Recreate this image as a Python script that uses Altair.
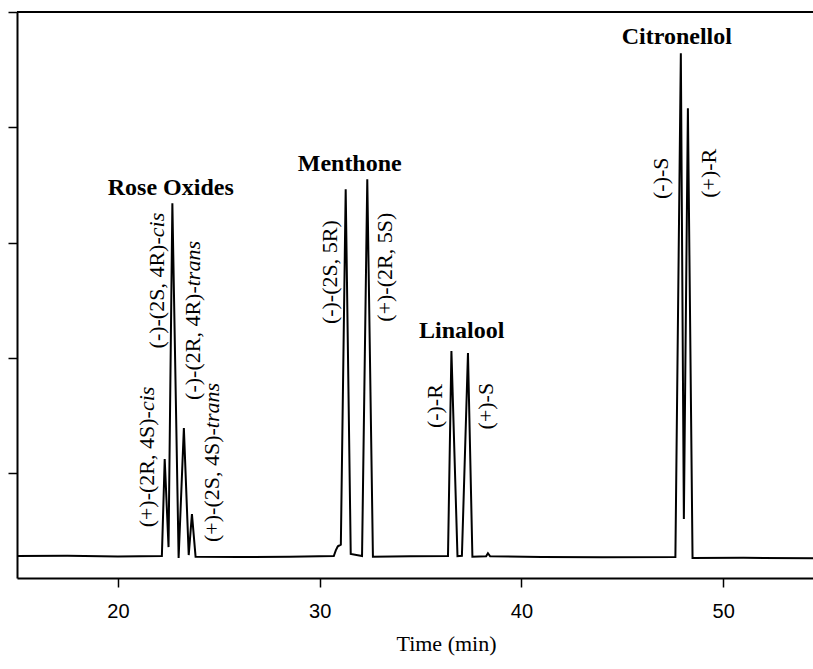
import altair as alt
import pandas as pd

# Chromatogram trace (time in min, detector signal in arbitrary units)
trace_time = [15.0, 17.5, 20.0, 22.18, 22.32, 22.51, 22.70, 23.01, 23.27, 23.51, 23.67, 23.85,
              26.0, 28.5, 30.70, 30.80, 30.90, 31.05, 31.29, 31.54, 32.10, 32.36, 32.64,
              34.5, 36.36, 36.53, 36.83, 37.05, 37.35, 37.57, 38.25, 38.34, 38.45,
              41.0, 44.0, 47.63, 47.90, 48.05, 48.25, 48.48, 51.0, 54.45]
trace_signal = [0.280, 0.282, 0.276, 0.280, 1.121, 0.358, 3.341, 0.263, 1.390, 0.289, 0.644, 0.275,
                0.272, 0.274, 0.280, 0.330, 0.365, 0.380, 3.462, 0.298, 0.280, 3.549, 0.275,
                0.278, 0.280, 2.058, 0.280, 0.282, 2.041, 0.275, 0.278, 0.305, 0.278,
                0.272, 0.270, 0.272, 4.642, 0.601, 4.165, 0.263, 0.265, 0.262]

# Enantiomer labels (plain)
peak_label_text = ["(-)-(2S, 5R)", "(+)-(2R, 5S)", "(-)-R", "(+)-S", "(-)-S", "(+)-R"]
peak_label_time = [30.51, 33.24, 35.72, 38.23, 46.91, 49.29]
peak_label_signal = [2.743, 2.786, 1.581, 1.581, 3.558, 3.601]

# Rose oxide labels: plain prefix + italic suffix, anchored at the junction
iso_prefix = ["(+)-(2R, 4S)-", "(-)-(2S, 4R)-", "(-)-(2R, 4R)-", "(+)-(2S, 4S)-"]
iso_suffix = ["cis", "cis", "trans", "trans"]
iso_time = [21.42, 21.92, 23.70, 24.65]
iso_signal = [1.538, 3.046, 2.621, 1.390]

# Compound group names
group_names = ["Rose Oxides", "Menthone", "Linalool", "Citronellol"]
group_time = [22.62, 31.49, 37.04, 47.70]
group_signal = [3.471, 3.679, 2.231, 4.780]

x_ticks = [20, 30, 40, 50]
y_ticks = [1, 2, 3, 4, 5]

trace_df = pd.DataFrame({"t": trace_time, "s": trace_signal})
peak_df = pd.DataFrame({"label": peak_label_text, "t": peak_label_time, "s": peak_label_signal})
iso_df = pd.DataFrame({"pre": iso_prefix, "suf": iso_suffix, "t": iso_time, "s": iso_signal})
group_df = pd.DataFrame({"name": group_names, "t": group_time, "s": group_signal})

xscale = alt.Scale(domain=[15, 54.45], nice=False, zero=False)
yscale = alt.Scale(domain=[0.09, 5.0], nice=False, zero=False)

SERIF = "Liberation Serif"

line = alt.Chart(trace_df).mark_line(color="black", strokeWidth=2, clip=True).encode(
    x=alt.X("t:Q", scale=xscale,
            axis=alt.Axis(values=x_ticks, format="d", grid=False, labelFont="Liberation Sans",
                          labelFontSize=20, labelColor="black", labelPadding=14,
                          tickSize=9, tickWidth=1.5, tickColor="black",
                          domainColor="black", domainWidth=2,
                          title="Time (min)", titleFont=SERIF, titleFontSize=22,
                          titleFontWeight="normal", titleColor="black", titleX=429,
                          titlePadding=12)),
    y=alt.Y("s:Q", scale=yscale,
            axis=alt.Axis(values=y_ticks, labels=False, grid=False, tickSize=9, tickWidth=1.5,
                          tickColor="black", domainColor="black", domainWidth=2, title=""))
)

top_border = alt.Chart(trace_df).mark_rule(color="black", strokeWidth=2).encode(
    x=alt.value(0), x2=alt.value(796), y=alt.value(0)
)

peak_text = alt.Chart(peak_df).mark_text(angle=270, font=SERIF, fontSize=22, align="center",
                                         baseline="middle", color="black").encode(
    x=alt.X("t:Q", scale=xscale), y=alt.Y("s:Q", scale=yscale), text="label:N"
)

iso_pre = alt.Chart(iso_df).mark_text(angle=270, font=SERIF, fontSize=22, align="right",
                                      baseline="middle", color="black").encode(
    x=alt.X("t:Q", scale=xscale), y=alt.Y("s:Q", scale=yscale), text="pre:N"
)

iso_suf = alt.Chart(iso_df).mark_text(angle=270, font=SERIF, fontSize=22, align="left",
                                      baseline="middle", fontStyle="italic", color="black").encode(
    x=alt.X("t:Q", scale=xscale), y=alt.Y("s:Q", scale=yscale), text="suf:N"
)

group_text = alt.Chart(group_df).mark_text(font=SERIF, fontSize=24, fontWeight="bold",
                                           align="center", baseline="middle", color="black").encode(
    x=alt.X("t:Q", scale=xscale), y=alt.Y("s:Q", scale=yscale), text="name:N"
)

chart = alt.layer(line, top_border, peak_text, iso_pre, iso_suf, group_text).properties(
    width=796, height=566,
    autosize=alt.AutoSizeParams(type="none"),
    padding={"left": 17, "top": 12, "right": 0, "bottom": 91},
    background="white",
).configure_view(stroke=None)

chart.save("out.html", embed_options={"renderer": "svg", "actions": False})
